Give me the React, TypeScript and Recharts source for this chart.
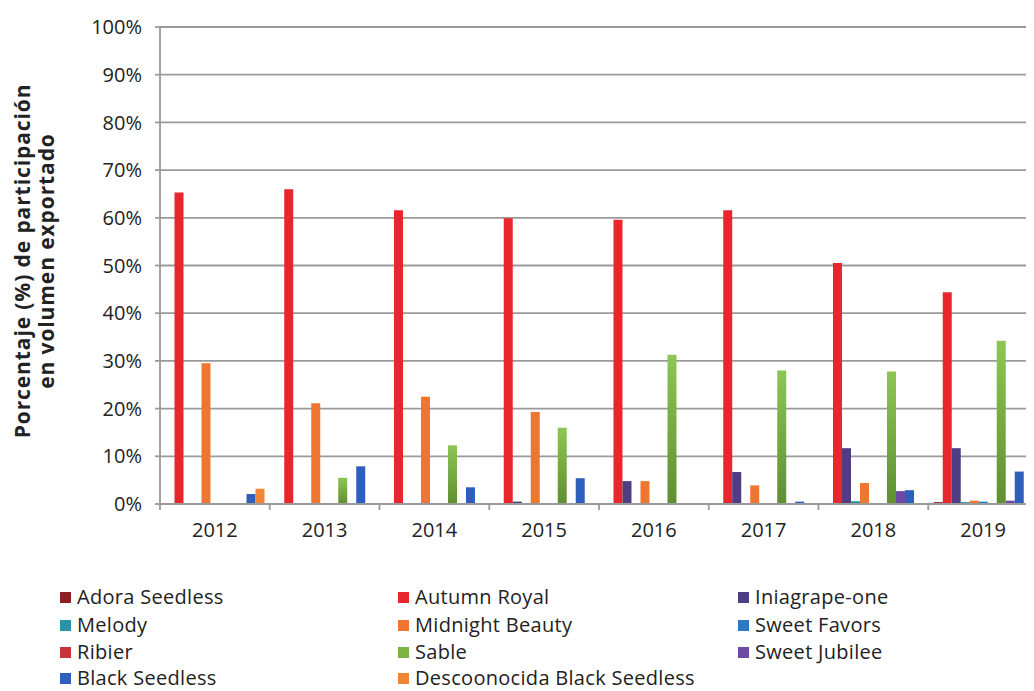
import { BarChart, Bar, XAxis, YAxis, CartesianGrid } from "recharts";

const years = ["2012", "2013", "2014", "2015", "2016", "2017", "2018", "2019"];

// share (%) of exported volume
const adoraSeedless = [0, 0, 0, 0, 0, 0, 0, 0.4];
const autumnRoyal = [65.3, 66, 61.6, 59.9, 59.6, 61.6, 50.5, 44.4];
const iniagrapeOne = [0, 0, 0.2, 0.5, 4.8, 6.7, 11.7, 11.7];
const melody = [0, 0, 0, 0, 0, 0, 0.6, 0.4];
const midnightBeauty = [29.5, 21.1, 22.5, 19.3, 4.8, 3.9, 4.4, 0.7];
const sweetFavors = [0, 0, 0, 0, 0, 0, 0, 0.5];
const ribier = [0.1, 0, 0.2, 0, 0, 0, 0, 0];
const sable = [0.2, 5.5, 12.3, 16, 31.3, 28, 27.8, 34.2];
const sweetJubilee = [0, 0, 0, 0, 0, 0, 2.7, 0.7];
const blackSeedless = [2.1, 7.9, 3.5, 5.4, 0, 0.5, 2.9, 6.8];
const descoonocida = [3.2, 0, 0, 0, 0, 0, 0, 0];

const yTicks = [0, 10, 20, 30, 40, 50, 60, 70, 80, 90, 100];

const series = [
  { key: "adora", name: "Adora Seedless", values: adoraSeedless, color: "#8e1f24" },
  { key: "autumn", name: "Autumn Royal", values: autumnRoyal, color: "#e8262b" },
  { key: "inia", name: "Iniagrape-one", values: iniagrapeOne, color: "#4e3d83" },
  { key: "melody", name: "Melody", values: melody, color: "#2a93a6" },
  { key: "midnight", name: "Midnight Beauty", values: midnightBeauty, color: "#ef7630" },
  { key: "favors", name: "Sweet Favors", values: sweetFavors, color: "#2d78c2" },
  { key: "ribier", name: "Ribier", values: ribier, color: "#c7343a" },
  { key: "sable", name: "Sable", values: sable, color: "#7cb342" },
  { key: "jubilee", name: "Sweet Jubilee", values: sweetJubilee, color: "#6f4aa3" },
  { key: "black", name: "Black Seedless", values: blackSeedless, color: "#2f5fbd" },
  { key: "desc", name: "Descoonocida Black Seedless", values: descoonocida, color: "#ef8535" },
];

const data = years.map((year, i) => {
  const row: Record<string, string | number> = { year };
  series.forEach((s) => {
    row[s.key] = s.values[i];
  });
  return row;
});

const FONT = "'Open Sans', sans-serif";
const TEXT = "#222";
const GRID = "#9a9a9a";
const BAND = (1038 - 160) / years.length;

const XTick = (props: any) => {
  const { x, y, payload } = props;
  const edge = x - BAND / 2;
  return (
    <g>
      <line x1={edge} x2={edge} y1={y} y2={y + 6} stroke={GRID} strokeWidth={1.8} />
      <text x={x} y={y + 33} textAnchor="middle" fontSize={20} fill={TEXT} fontFamily={FONT}>
        {payload.value}
      </text>
    </g>
  );
};

// legend is laid out row by row, three columns
const legendCols = [60, 398, 738];
const legendRows = [597, 625, 652, 678];

export default function App() {
  return (
    <div
      style={{
        position: "relative",
        margin: "-8px 0 0 -8px",
        width: 1034,
        height: 691,
        overflow: "hidden",
        background: "#fff",
        fontFamily: FONT,
        color: TEXT,
      }}
    >
      <BarChart
        width={1050}
        height={691}
        data={data}
        margin={{ top: 27, right: 12, bottom: 147, left: 0 }}
        barCategoryGap="5%"
        barGap={0}
      >
        <defs>
          <linearGradient id="sableFill" x1="0" y1="0" x2="0" y2="1">
            <stop offset="0%" stopColor="#8cc653" />
            <stop offset="100%" stopColor="#5f8f30" />
          </linearGradient>
        </defs>
        <CartesianGrid vertical={false} stroke={GRID} strokeWidth={1.8} />
        <XAxis
          dataKey="year"
          height={40}
          stroke={GRID}
          strokeWidth={1.8}
          tickLine={false}
          tickSize={0}
          tickMargin={0}
          tick={<XTick />}
          interval={0}
        />
        <YAxis
          width={160}
          domain={[0, 100]}
          ticks={yTicks}
          tickFormatter={(v) => `${v}%`}
          stroke={GRID}
          strokeWidth={1.8}
          tickSize={5}
          tickMargin={13}
          tick={{ fontSize: 20, fill: TEXT, fontFamily: FONT }}
        />
        {series.map((s) => (
          <Bar
            key={s.key}
            dataKey={s.key}
            name={s.name}
            fill={s.key === "sable" ? "url(#sableFill)" : s.color}
            isAnimationActive={false}
          />
        ))}
      </BarChart>

      <div
        style={{
          position: "absolute",
          left: 34,
          top: 261,
          transform: "translate(-50%, -50%) rotate(-90deg)",
          whiteSpace: "nowrap",
          textAlign: "center",
          fontWeight: 700,
          fontSize: 21,
          letterSpacing: 0.9,
          lineHeight: "24px",
        }}
      >
        Porcentaje (%) de participación
        <br />
        en volumen exportado
      </div>

      {series.map((s, i) => (
        <div
          key={s.key}
          style={{
            position: "absolute",
            left: legendCols[i % 3],
            top: legendRows[Math.floor(i / 3)] - 12,
            height: 24,
            lineHeight: "24px",
            display: "flex",
            alignItems: "center",
            whiteSpace: "nowrap",
            fontSize: 20,
            letterSpacing: 0.3,
          }}
        >
          <span
            style={{
              display: "inline-block",
              width: 11,
              height: 11,
              background: s.color,
              marginRight: 6,
            }}
          />
          {s.name}
        </div>
      ))}
    </div>
  );
}
